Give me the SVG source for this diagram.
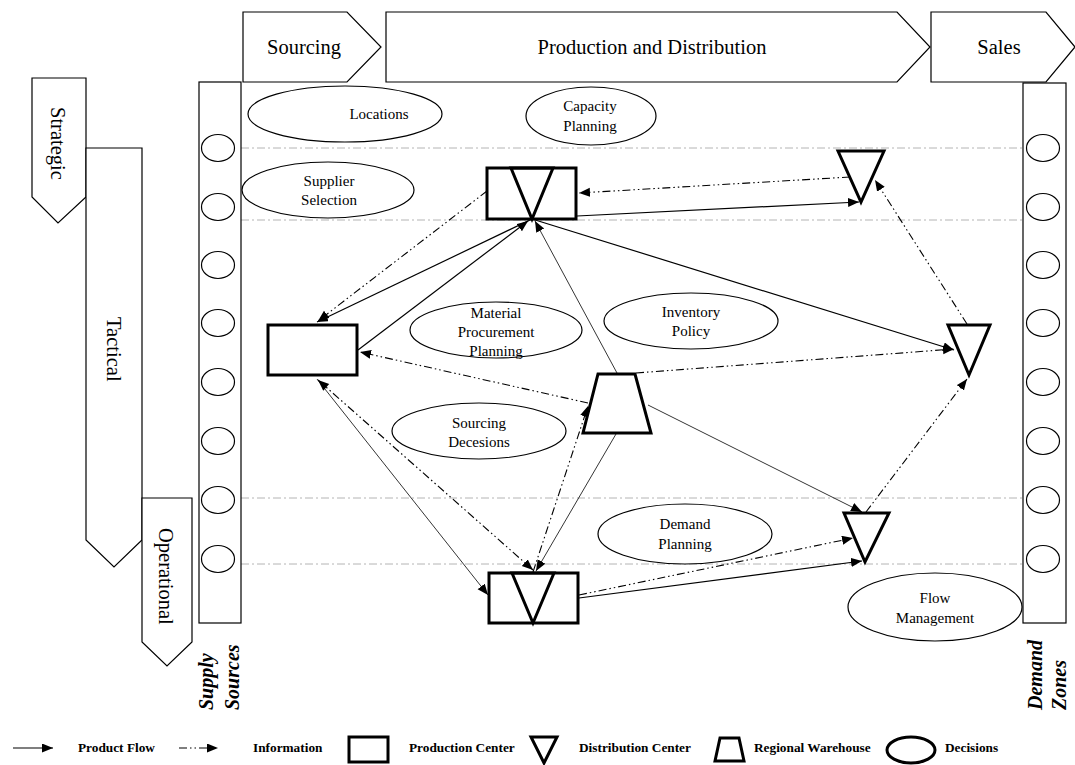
<svg xmlns="http://www.w3.org/2000/svg" width="1075" height="765" viewBox="0 0 1075 765">
<style>
.frame{fill:#fff;stroke:#000;stroke-width:1.2}
.lbl{font-family:"Liberation Serif","Times New Roman",serif;font-size:20.5px;fill:#000}
.dec{fill:#fff;stroke:#000;stroke-width:1.2}
.dt{font-family:"Liberation Serif","Times New Roman",serif;font-size:15px;fill:#000;text-anchor:middle}
.node{fill:#fff;stroke:#000;stroke-width:3;stroke-linejoin:miter}
.guide{stroke:#b4b4b4;stroke-width:1;stroke-dasharray:8 3 2 3;fill:none}
.flow{stroke:#000;stroke-width:1.2;fill:none}
.thin{stroke:#000;stroke-width:0.8;fill:none}
.info{stroke:#000;stroke-width:1.1;fill:none;stroke-dasharray:8 3 1.5 3 1.5 3}
.side{font-family:"Liberation Serif","Times New Roman",serif;font-size:20px;font-weight:bold;font-style:italic;fill:#000}
.leg{font-family:"Liberation Serif","Times New Roman",serif;font-size:13.3px;font-weight:bold;fill:#000}
</style>
<defs>
<marker id="ah" markerUnits="userSpaceOnUse" markerWidth="12" markerHeight="10" refX="11" refY="4.5" orient="auto">
<path d="M0,0 L11,4.5 L0,9 Z" fill="#000"/>
</marker>
<marker id="as" markerUnits="userSpaceOnUse" markerWidth="12" markerHeight="10" refX="0" refY="4.5" orient="auto">
<path d="M11,0 L0,4.5 L11,9 Z" fill="#000"/>
</marker>
</defs>
<rect width="1075" height="765" fill="#fff"/>

<g id="phase-sourcing">
<polygon class="frame" points="243,12 347,12 381,47 347,82 243,82"/>
<text class="lbl" x="304" y="54" text-anchor="middle">Sourcing</text>
</g>
<g id="phase-production">
<polygon class="frame" points="386,12 897,12 930,47 897,82 386,82"/>
<text class="lbl" x="652" y="54" text-anchor="middle">Production and Distribution</text>
</g>
<g id="phase-sales">
<polygon class="frame" points="931,12 1046,12 1075,47 1046,82 931,82"/>
<text class="lbl" x="999" y="54" text-anchor="middle">Sales</text>
</g>

<g id="level-strategic">
<polygon class="frame" points="32,78 86,78 86,197 58,223 32,197"/>
<text class="lbl" transform="translate(51,107) rotate(90)">Strategic</text>
</g>
<g id="level-tactical">
<polygon class="frame" points="86,148 142,148 142,540 114,567 86,540"/>
<text class="lbl" transform="translate(107,317) rotate(90)">Tactical</text>
</g>
<g id="level-operational">
<polygon class="frame" points="142,498 192,498 192,642 167,666 142,642"/>
<text class="lbl" transform="translate(159,528) rotate(90)">Operational</text>
</g>

<g id="guides">
<line class="guide" x1="241" y1="148" x2="1023" y2="148"/>
<line class="guide" x1="241" y1="220" x2="1023" y2="220"/>
<line class="guide" x1="241" y1="498" x2="1023" y2="498"/>
<line class="guide" x1="241" y1="564" x2="1023" y2="564"/>
</g>

<g id="supply-sources">
<rect class="frame" x="199" y="82" width="42" height="541"/>
<ellipse class="dec" cx="218" cy="148" rx="16.5" ry="13.5"/>
<ellipse class="dec" cx="218" cy="207" rx="16.5" ry="13.5"/>
<ellipse class="dec" cx="218" cy="265" rx="16.5" ry="13.5"/>
<ellipse class="dec" cx="218" cy="323" rx="16.5" ry="13.5"/>
<ellipse class="dec" cx="218" cy="382" rx="16.5" ry="13.5"/>
<ellipse class="dec" cx="218" cy="441" rx="16.5" ry="13.5"/>
<ellipse class="dec" cx="218" cy="500" rx="16.5" ry="13.5"/>
<ellipse class="dec" cx="218" cy="559" rx="16.5" ry="13.5"/>
<text class="side" transform="translate(213,710) rotate(-90)">Supply</text>
<text class="side" transform="translate(239,710) rotate(-90)">Sources</text>
</g>

<g id="demand-zones">
<rect class="frame" x="1023" y="83" width="43" height="540"/>
<ellipse class="dec" cx="1043" cy="148" rx="16.5" ry="13.5"/>
<ellipse class="dec" cx="1043" cy="207" rx="16.5" ry="13.5"/>
<ellipse class="dec" cx="1043" cy="265" rx="16.5" ry="13.5"/>
<ellipse class="dec" cx="1043" cy="323" rx="16.5" ry="13.5"/>
<ellipse class="dec" cx="1043" cy="382" rx="16.5" ry="13.5"/>
<ellipse class="dec" cx="1043" cy="441" rx="16.5" ry="13.5"/>
<ellipse class="dec" cx="1043" cy="500" rx="16.5" ry="13.5"/>
<ellipse class="dec" cx="1043" cy="559" rx="16.5" ry="13.5"/>
<text class="side" transform="translate(1042,710) rotate(-90)">Demand</text>
<text class="side" transform="translate(1066,710) rotate(-90)">Zones</text>
</g>

<g id="decision-locations">
<ellipse class="dec" cx="345" cy="114" rx="97" ry="28"/>
<text class="dt" x="379" y="119">Locations</text>
</g>
<g id="decision-capacity">
<ellipse class="dec" cx="591" cy="116" rx="65" ry="29"/>
<text class="dt" x="590" y="111">Capacity</text>
<text class="dt" x="590" y="131">Planning</text>
</g>
<g id="decision-supplier">
<ellipse class="dec" cx="328" cy="190" rx="86" ry="28"/>
<text class="dt" x="329" y="186">Supplier</text>
<text class="dt" x="329" y="205">Selection</text>
</g>
<g id="decision-material">
<ellipse class="dec" cx="496" cy="330" rx="86" ry="28"/>
<text class="dt" x="496" y="318">Material</text>
<text class="dt" x="496" y="337">Procurement</text>
<text class="dt" x="496" y="356">Planning</text>
</g>
<g id="decision-inventory">
<ellipse class="dec" cx="691" cy="321" rx="87" ry="28"/>
<text class="dt" x="691" y="317">Inventory</text>
<text class="dt" x="691" y="336">Policy</text>
</g>
<g id="decision-sourcing">
<ellipse class="dec" cx="479" cy="431" rx="87" ry="28"/>
<text class="dt" x="479" y="428">Sourcing</text>
<text class="dt" x="479" y="447">Decesions</text>
</g>
<g id="decision-demand">
<ellipse class="dec" cx="685" cy="534" rx="87" ry="30"/>
<text class="dt" x="685" y="529">Demand</text>
<text class="dt" x="685" y="549">Planning</text>
</g>
<g id="decision-flow">
<ellipse class="dec" cx="935" cy="607" rx="87" ry="34"/>
<text class="dt" x="935" y="603">Flow</text>
<text class="dt" x="935" y="623">Management</text>
</g>

<g id="connectors">
<line class="info" x1="850" y1="177" x2="579" y2="193" marker-end="url(#ah)"/>
<line class="info" x1="487" y1="191" x2="318" y2="321" marker-end="url(#ah)"/>
<line class="info" x1="588" y1="403" x2="360" y2="352" marker-end="url(#ah)"/>
<line class="info" x1="318" y1="380" x2="533" y2="570" marker-start="url(#as)" marker-end="url(#ah)"/>
<line class="info" x1="533" y1="572" x2="588" y2="406" marker-end="url(#ah)"/>
<line class="info" x1="636" y1="373" x2="954" y2="349" marker-end="url(#ah)"/>
<line class="info" x1="866" y1="512" x2="967" y2="379" marker-end="url(#ah)"/>
<line class="info" x1="967" y1="324" x2="875" y2="180" marker-end="url(#ah)"/>
<line class="info" x1="579" y1="595" x2="853" y2="538" marker-end="url(#ah)"/>
<line class="flow" x1="532" y1="219" x2="317" y2="322" marker-end="url(#ah)"/>
<line class="flow" x1="358" y1="350" x2="528" y2="221" marker-end="url(#ah)"/>
<line class="thin" x1="617" y1="373" x2="535" y2="221" marker-end="url(#ah)"/>
<line class="flow" x1="577" y1="216" x2="859" y2="202" marker-end="url(#ah)"/>
<line class="flow" x1="532" y1="219" x2="954" y2="350" marker-end="url(#ah)"/>
<line class="thin" x1="648" y1="405" x2="862" y2="512" marker-end="url(#ah)"/>
<line class="thin" x1="616" y1="434" x2="536" y2="571" marker-end="url(#ah)"/>
<line class="thin" x1="317" y1="379" x2="488" y2="595" marker-end="url(#ah)"/>
<line class="flow" x1="579" y1="598" x2="862" y2="561" marker-end="url(#ah)"/>
</g>

<g id="pd-top">
<rect class="node" x="487" y="168" width="89" height="51"/>
<polygon class="node" points="511,168 553,168 532,219" style="fill:none"/>
</g>
<g id="pd-bottom">
<rect class="node" x="489" y="573" width="89" height="50"/>
<polygon class="node" points="512,573 554,573 533,623" style="fill:none"/>
</g>
<g id="production-center">
<rect class="node" x="268" y="325" width="89" height="50"/>
</g>
<g id="dc-top">
<polygon class="node" points="838,151 884,151 861,202"/>
</g>
<g id="dc-right">
<polygon class="node" points="948,325 990,325 969,375"/>
</g>
<g id="dc-lower">
<polygon class="node" points="844,513 889,513 865,562"/>
</g>
<g id="regional-warehouse">
<polygon class="node" points="598,374 635,374 651,433 583,433"/>
</g>

<g id="legend">
<line class="flow" x1="13" y1="748" x2="53" y2="748" marker-end="url(#ah)"/>
<text class="leg" x="78" y="752">Product Flow</text>
<line class="info" x1="179" y1="748" x2="218" y2="748" marker-end="url(#ah)"/>
<text class="leg" x="253" y="752">Information</text>
<rect class="node" x="349" y="737" width="39" height="25"/>
<text class="leg" x="409" y="752">Production Center</text>
<polygon class="node" points="531,737 557,737 544,763"/>
<text class="leg" x="579" y="752">Distribution Center</text>
<polygon class="node" points="720,738 739,738 744,761 715,761"/>
<text class="leg" x="754" y="752">Regional Warehouse</text>
<ellipse class="node" cx="911" cy="750" rx="24" ry="13"/>
<text class="leg" x="945" y="752">Decisions</text>
</g>
</svg>
